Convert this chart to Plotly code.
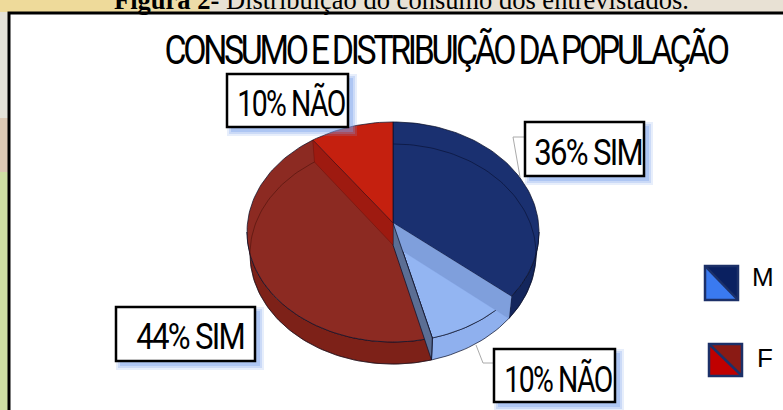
import math
import plotly.graph_objects as go

# ---- data ----
slice_labels = ["36% SIM", "10% NÃO", "44% SIM", "10% NÃO"]
slice_values = [36, 10, 44, 10]
legend_labels = ["M", "F"]
chart_title = "CONSUMO E DISTRIBUIÇÃO DA POPULAÇÃO"
caption_bold = "Figura 2-"
caption_rest = " Distribuição do consumo dos entrevistados."

# ---- styles ----
top_colors = ["#1a3070", "#93b5f2", "#8c2a22", "#c5200f"]
side_colors = ["#14265c", "#8fb0ee", "#7d2118", "#c5200f"]
WIDTH, HEIGHT = 783, 410
PERSP = -0.0818                                # perspective of the tilted disc
TOP = dict(ax=393, ay=223, a=145.5, b=109.3)   # centre and radii of the top face
BOT = dict(ax=393, ay=245, a=142.5, b=109.3)   # same for the lower rim


def pt(frac, face=TOP):
    t = frac * 2 * math.pi
    u, v = math.sin(t), -math.cos(t)
    d = 1 + PERSP * v
    return face["ax"] + face["a"] * u / d, face["ay"] + face["b"] * v / d


def arc(f0, f1, face=TOP):
    n = max(2, int(abs(f1 - f0) * 200))
    return [pt(f0 + (f1 - f0) * i / n, face) for i in range(n + 1)]


def poly(points, fill, line="rgba(10,15,40,0.9)", width=0.8):
    xs = [p[0] for p in points] + [points[0][0]]
    ys = [p[1] for p in points] + [points[0][1]]
    return go.Scatter(x=xs, y=ys, mode="lines", fill="toself", fillcolor=fill,
                      line=dict(color=line, width=width), hoverinfo="skip", showlegend=False)


def curve(points, color, width=0.8):
    return go.Scatter(x=[p[0] for p in points], y=[p[1] for p in points], mode="lines",
                      line=dict(color=color, width=width), hoverinfo="skip", showlegend=False)


total = sum(slice_values)
edges = [0]
for v in slice_values:
    edges.append(edges[-1] + v / total)
apex_top = (TOP["ax"], TOP["ay"])
apex_bot = (BOT["ax"], BOT["ay"])
silhouette = math.acos(PERSP) / (2 * math.pi)

fig = go.Figure()

# outer side of the disc, for the part that faces the viewer
for i in range(len(slice_values)):
    f0, f1 = max(edges[i], silhouette), min(edges[i + 1], 1 - silhouette)
    if f1 > f0:
        fig.add_trace(poly(arc(f0, f1) + arc(f1, f0, BOT), side_colors[i]))

# top faces
for i in range(len(slice_values)):
    fig.add_trace(poly([apex_top] + arc(edges[i], edges[i + 1]), top_colors[i]))

# inner walls seen through the transparent faces
f = edges[1]
fig.add_trace(poly([apex_top, pt(f), pt(f, BOT), apex_bot], "#7f9fdc", line="rgba(127,159,220,0.6)", width=0.5))
f = edges[2]
fig.add_trace(poly([apex_top, pt(f), pt(f, BOT), apex_bot], "#5b6e94"))
f = edges[3]
fig.add_trace(poly([apex_top, pt(f), pt(f, BOT), apex_bot], "#9e1a10", line="rgba(90,10,5,0.7)", width=0.5))

# rim of the lower ellipse seen through the dark faces
fig.add_trace(curve(arc(0, edges[1], BOT), "rgba(8,15,50,0.8)"))
fig.add_trace(curve(arc(edges[2], edges[3], BOT), "rgba(60,10,5,0.6)"))

# leader lines
fig.add_trace(curve([(525, 137), (513, 137), (520, 177)], "#aaaaaa", 1))
fig.add_trace(curve([(476, 345), (483, 363), (494, 363)], "#aaaaaa", 1))

shapes = []


def rect(x0, y0, x1, y1, fill, line=None, lw=0, layer="below"):
    shapes.append(dict(type="rect", xref="x", yref="y", x0=x0, y0=y0, x1=x1, y1=y1, layer=layer,
                       fillcolor=fill, line=dict(color=line or fill, width=lw)))


# paper texture behind the frame
rect(0, 0, 200, 12, "#eeda9a")
rect(130, 0, 210, 12, "#ecdca8")
rect(210, 0, 783, 12, "#e8e1d4")
rect(0, 0, 8, 12, "#eeda9a")
rect(0, 12, 8, 118, "#e4e2d8")
rect(0, 118, 8, 172, "#dcc9b4")
rect(0, 172, 8, 410, "#cfe0a4")
# frame
rect(9, 13, 800, 430, "#ffffff", "#000000", 3)

# label shadows and boxes
boxes = [(525, 122, 644, 176), (494, 349, 615, 402), (116, 307, 255, 361), (227, 74, 348, 127)]
for (x0, y0, x1, y1) in boxes:
    for grow, alpha in ((6, 0.18), (4, 0.25), (2, 0.35)):
        shapes.append(dict(type="rect", x0=x0 + 6 - grow, y0=y0 + 6 - grow, x1=x1 + 3 + grow, y1=y1 + 3 + grow,
                           layer="above", fillcolor=f"rgba(120,160,235,{alpha})", line=dict(width=0)))
    shapes.append(dict(type="rect", x0=x0, y0=y0, x1=x1, y1=y1, layer="above",
                       fillcolor="#ffffff", line=dict(color="#000000", width=2.5)))

# legend swatches
swatches = [(705, 266, 738, 300, "#0a2060", "#3a7af0"), (709, 344, 742, 376, "#8a1a14", "#c00000")]
for (x0, y0, x1, y1, up, low) in swatches:
    shapes.append(dict(type="path", path=f"M{x0},{y0} L{x1},{y0} L{x1},{y1} Z", fillcolor=up, line=dict(width=0), layer="above"))
    shapes.append(dict(type="path", path=f"M{x0},{y0} L{x0},{y1} L{x1},{y1} Z", fillcolor=low, line=dict(width=0), layer="above"))
    shapes.append(dict(type="line", x0=x0, y0=y0, x1=x1, y1=y1, line=dict(color="#1c3068", width=2.5), layer="above"))
    shapes.append(dict(type="rect", x0=x0, y0=y0, x1=x1, y1=y1, fillcolor="rgba(0,0,0,0)", line=dict(color="#1c3068", width=2.5), layer="above"))

annotations = []


def text(x, y, s, size, family):
    annotations.append(dict(x=x, y=y, xref="x", yref="y", text=s, showarrow=False, xanchor="center",
                            yanchor="middle", font=dict(family=family, size=size, color="#000000")))


DIN = "Roboto, sans-serif"
text(445, 50, chart_title, 41, DIN)
label_pos = [(588, 152), (558, 379), (190, 336), (291, 103)]
for (x, y), s in zip(label_pos, slice_labels):
    text(x, y, s, 37, DIN)
text(763, 277, legend_labels[0], 26, "Liberation Sans")
text(765, 358, legend_labels[1], 26, "Liberation Sans")
annotations.append(dict(x=401, y=0.5, xref="x", yref="y", showarrow=False, xanchor="center", yanchor="middle",
                        yshift=1, text=f"<b>{caption_bold}</b>{caption_rest}",
                        font=dict(family="Liberation Serif", size=26.5, color="#000000")))

fig.update_layout(
    width=WIDTH, height=HEIGHT, autosize=False, margin=dict(l=0, r=0, t=0, b=0),
    paper_bgcolor="#ffffff", plot_bgcolor="rgba(0,0,0,0)",
    xaxis=dict(range=[0, WIDTH], visible=False, fixedrange=True),
    yaxis=dict(range=[HEIGHT, 0], visible=False, fixedrange=True),
    shapes=shapes, annotations=annotations, showlegend=False,
)

# the lettering of the original is a tightly set condensed face
spacing = """
document.body.style.margin = '0';
function squeeze(t, track, target) {
  t.style.letterSpacing = track;
  var s = target / t.getBBox().width;
  var x = parseFloat(t.getAttribute('x')) || 0;
  t.setAttribute('transform', 'translate(' + x + ',0) scale(' + s + ',1) translate(' + (-x) + ',0)');
}
document.querySelectorAll('.annotation-text').forEach(function(t){
  var s = t.textContent;
  if (s.indexOf('CONSUMO') === 0) { squeeze(t, '-4px', 564); }
  else if (s.indexOf('%') > 0) { squeeze(t, '-2px', 108); }
});
"""
fig.write_html("out.html", post_script=spacing, config=dict(displayModeBar=False))
